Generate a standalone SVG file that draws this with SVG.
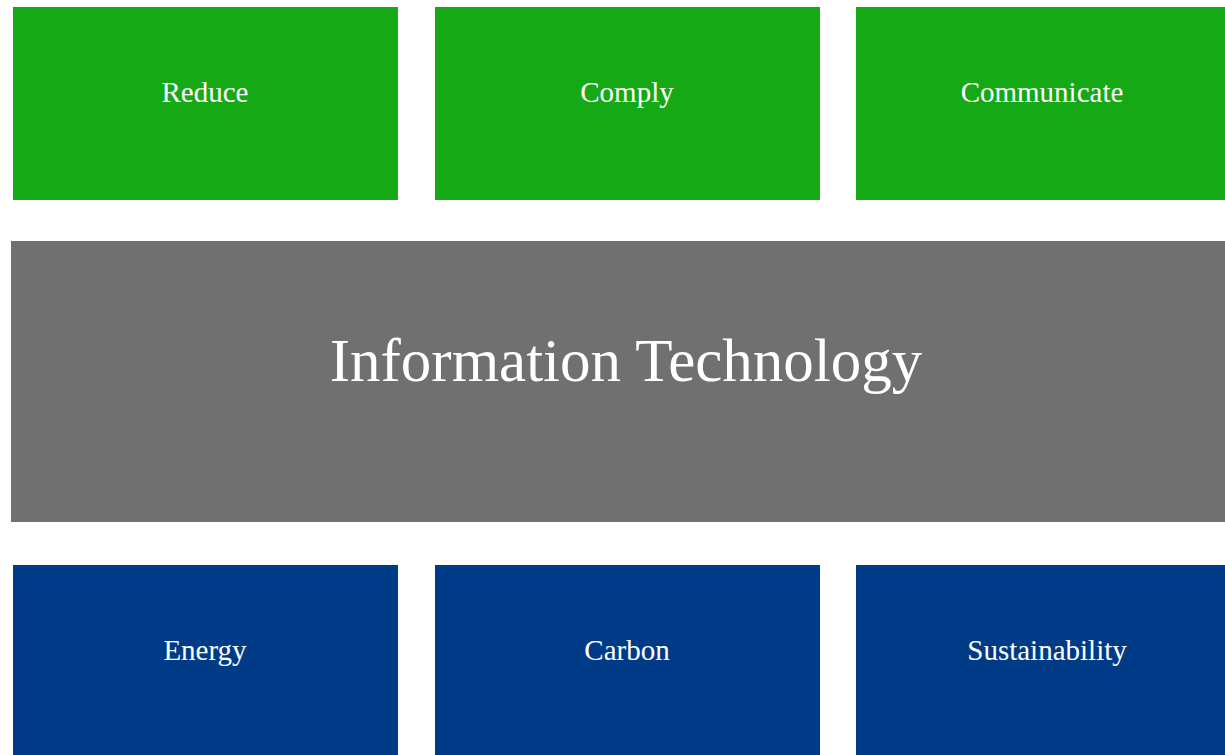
<svg xmlns="http://www.w3.org/2000/svg" width="1225" height="755" viewBox="0 0 1225 755">
<style>
.g{fill:#15A915}
.b{fill:#003B87}
.c{fill:#707070}
text{font-family:"Liberation Serif","DejaVu Serif",serif;fill:#fff;text-anchor:middle}
.s{font-size:29px}
.l{font-size:61px}
</style>
<rect width="1225" height="755" fill="#fff"/>
<g id="reduce"><rect class="g" x="13" y="7" width="385" height="193"/><text class="s" x="205" y="102">Reduce</text></g>
<g id="comply"><rect class="g" x="435" y="7" width="385" height="193"/><text class="s" x="627" y="102">Comply</text></g>
<g id="communicate"><rect class="g" x="856" y="7" width="385" height="193"/><text class="s" x="1042" y="102">Communicate</text></g>
<g id="it"><rect class="c" x="11" y="241" width="1220" height="281"/><text class="l" x="626" y="381">Information Technology</text></g>
<g id="energy"><rect class="b" x="13" y="565" width="385" height="193"/><text class="s" x="205" y="660">Energy</text></g>
<g id="carbon"><rect class="b" x="435" y="565" width="385" height="193"/><text class="s" x="627" y="660">Carbon</text></g>
<g id="sustainability"><rect class="b" x="856" y="565" width="385" height="193"/><text class="s" x="1047" y="660">Sustainability</text></g>
<g id="connectors"></g>
</svg>
